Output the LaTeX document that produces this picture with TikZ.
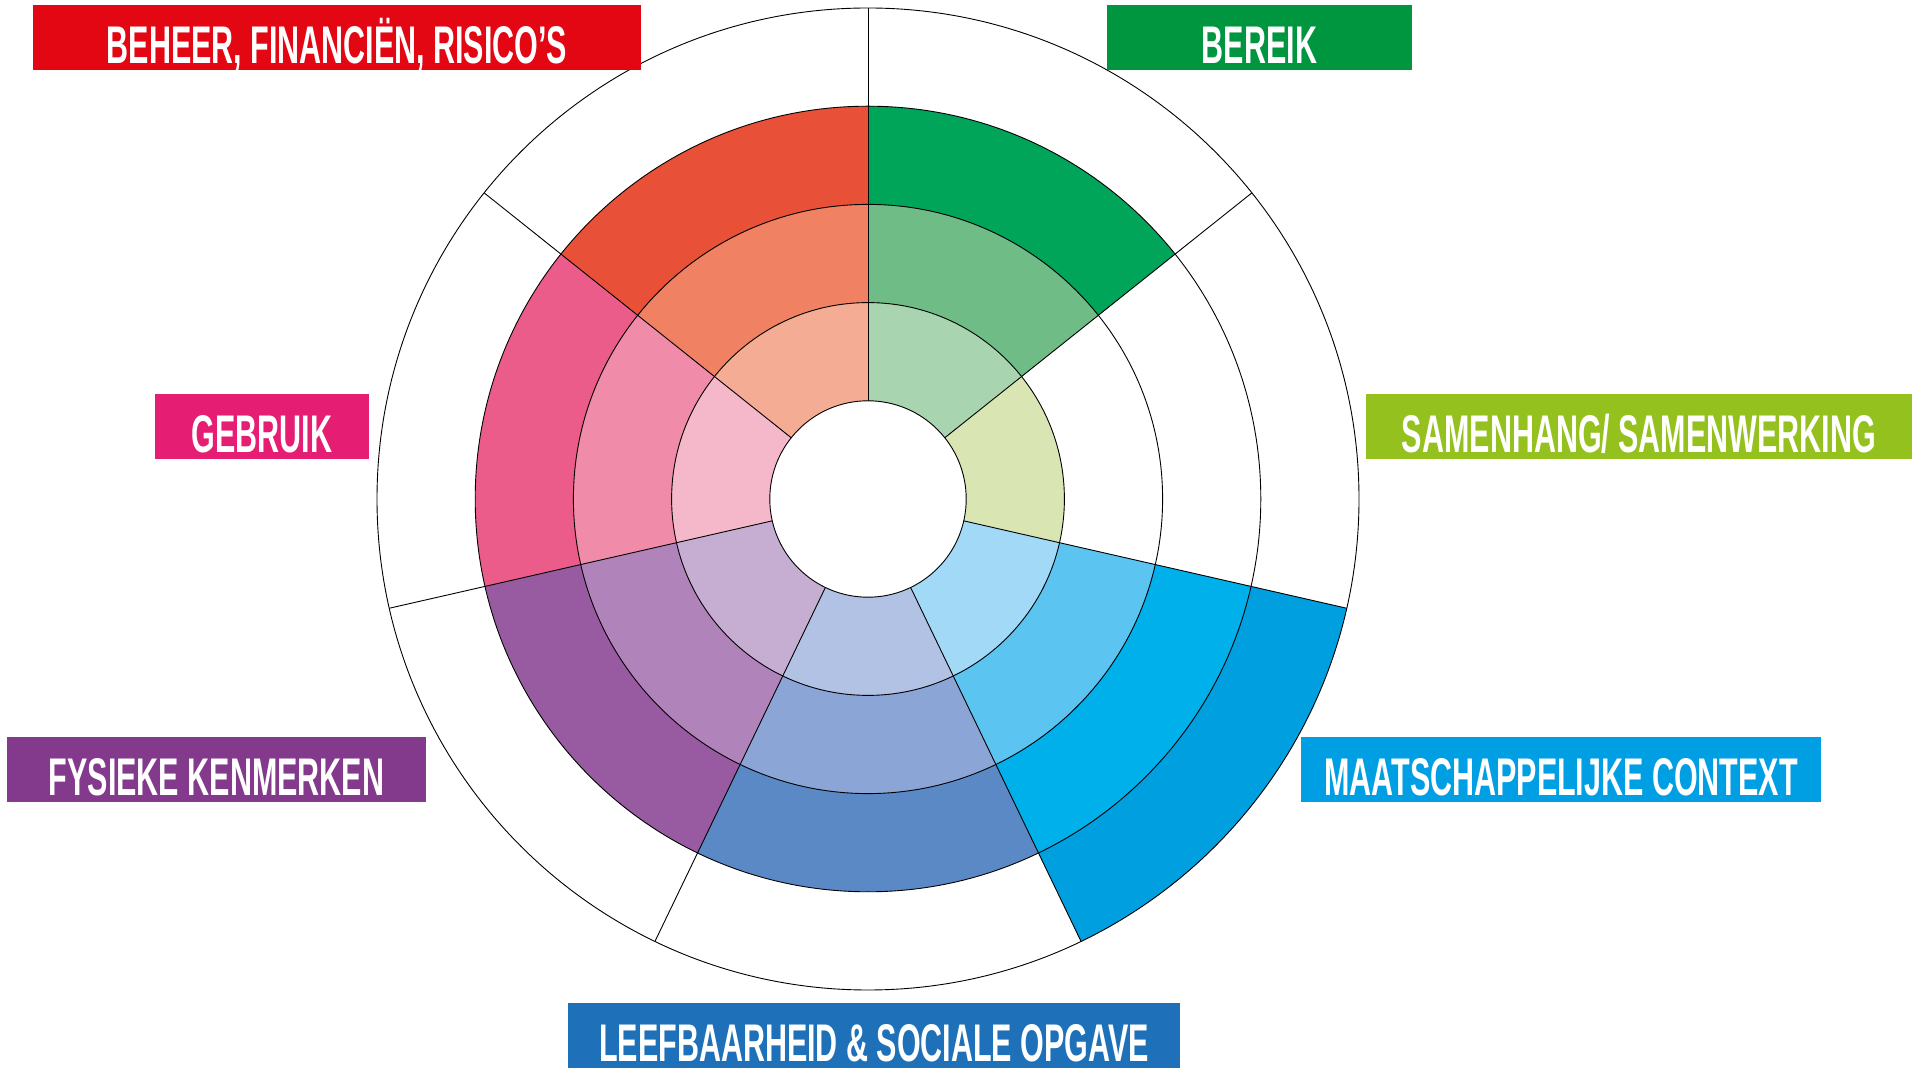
\documentclass[tikz,border=0pt]{standalone}
\usepackage{fontspec}
\newfontfamily\labfont[FakeStretch=0.575]{Liberation Sans}
\definecolor{gA}{HTML}{A8D4B0}\definecolor{gB}{HTML}{70BC86}\definecolor{gC}{HTML}{00A55A}
\definecolor{yA}{HTML}{D9E5B2}
\definecolor{mA}{HTML}{A2D9F6}\definecolor{mB}{HTML}{5BC4F0}\definecolor{mC}{HTML}{00B0EA}\definecolor{mD}{HTML}{009FE0}
\definecolor{lA}{HTML}{B2C2E5}\definecolor{lB}{HTML}{8BA6D6}\definecolor{lC}{HTML}{5B89C6}
\definecolor{fA}{HTML}{C6AED3}\definecolor{fB}{HTML}{B084BA}\definecolor{fC}{HTML}{985BA1}
\definecolor{pA}{HTML}{F5B7CA}\definecolor{pB}{HTML}{F08BA9}\definecolor{pC}{HTML}{EB5C8B}
\definecolor{rA}{HTML}{F4AD94}\definecolor{rB}{HTML}{F08163}\definecolor{rC}{HTML}{E85137}
\definecolor{boxRed}{HTML}{E30613}
\definecolor{boxGreen}{HTML}{009640}
\definecolor{boxLime}{HTML}{95C11F}
\definecolor{boxPink}{HTML}{E61E73}
\definecolor{boxPurple}{HTML}{833A8C}
\definecolor{boxCyan}{HTML}{009FE3}
\definecolor{boxBlue}{HTML}{1E71B8}
\newcommand\ringseg[3]{%
  \pgfmathsetmacro\aA{90-(#2+1)*360/7}%
  \pgfmathsetmacro\aB{90-#2*360/7}%
  \pgfmathsetmacro\rA{#3*98.2}%
  \pgfmathsetmacro\rB{(#3+1)*98.2}%
  \fill[#1] ([shift={(\aA:\rA)}]c) arc[start angle=\aA, end angle=\aB, radius=\rA]
     -- ([shift={(\aB:\rB)}]c) arc[start angle=\aB, end angle=\aA, radius=\rB] -- cycle;}
\begin{document}
\begin{tikzpicture}[x=1pt,y=1pt,
  ringline/.style={draw=black, line width=0.9pt},
  labbox/.style={rectangle, inner sep=0pt, minimum height=65pt},
  lab/.style={font=\labfont\bfseries\fontsize{53}{53}\selectfont, text=white, inner sep=0pt, anchor=base}]
\useasboundingbox (0,0) rectangle (1914,1073);
\fill[white] (0,0) rectangle (1914,1073);
\coordinate (c) at (868,574);
% Bereik
\ringseg{gA}{0}{1}\ringseg{gB}{0}{2}\ringseg{gC}{0}{3}
% Samenhang
\ringseg{yA}{1}{1}
% Maatschappelijke context
\ringseg{mA}{2}{1}\ringseg{mB}{2}{2}\ringseg{mC}{2}{3}\ringseg{mD}{2}{4}
% Leefbaarheid
\ringseg{lA}{3}{1}\ringseg{lB}{3}{2}\ringseg{lC}{3}{3}
% Fysieke kenmerken
\ringseg{fA}{4}{1}\ringseg{fB}{4}{2}\ringseg{fC}{4}{3}
% Gebruik
\ringseg{pA}{5}{1}\ringseg{pB}{5}{2}\ringseg{pC}{5}{3}
% Beheer
\ringseg{rA}{6}{1}\ringseg{rB}{6}{2}\ringseg{rC}{6}{3}
% outlines
\foreach \j in {1,...,5}{\draw[ringline] (c) circle[radius=\j*98.2];}
\foreach \k in {0,...,6}{%
  \pgfmathsetmacro\ang{90-\k*360/7}
  \draw[ringline] ([shift={(\ang:98.2)}]c) -- ([shift={(\ang:491)}]c);}
% label boxes
\node[labbox, fill=boxRed, minimum width=608pt] (bBeheer) at (337,1035.5) {};
\node[lab] (tBeheer) at ([yshift=6.5pt]bBeheer.south) {BEHEER, FINANCIËN, RISICO’S};
\node[labbox, fill=boxGreen, minimum width=305pt] (bBereik) at (1259.5,1035.5) {};
\node[lab] (tBereik) at ([yshift=6.5pt]bBereik.south) {BEREIK};
\node[labbox, fill=boxLime, minimum width=546pt] (bSamen) at (1639,646.5) {};
\node[lab] (tSamen) at ([yshift=6.5pt]bSamen.south) {SAMENHANG/ SAMENWERKING};
\node[labbox, fill=boxPink, minimum width=214pt] (bGebruik) at (262,646.5) {};
\node[lab] (tGebruik) at ([yshift=6.5pt]bGebruik.south) {GEBRUIK};
\node[labbox, fill=boxPurple, minimum width=419pt] (bFys) at (216.5,303.5) {};
\node[lab] (tFys) at ([yshift=6.5pt]bFys.south) {FYSIEKE KENMERKEN};
\node[labbox, fill=boxCyan, minimum width=520pt] (bMaat) at (1561,303.5) {};
\node[lab] (tMaat) at ([yshift=6.5pt]bMaat.south) {MAATSCHAPPELIJKE CONTEXT};
\node[labbox, fill=boxBlue, minimum width=612pt] (bLeef) at (874,37.5) {};
\node[lab] (tLeef) at ([yshift=6.5pt]bLeef.south) {LEEFBAARHEID \& SOCIALE OPGAVE};
\end{tikzpicture}
\end{document}
